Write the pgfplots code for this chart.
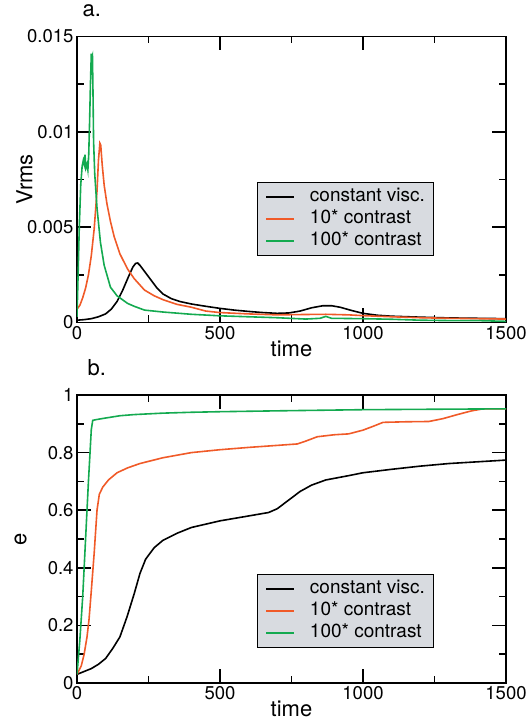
\documentclass[border=0pt]{standalone}
\usepackage{fontspec}
\setmainfont{TeX Gyre Heros}
\usepackage{pgfplots}
\pgfplotsset{compat=1.18}
\definecolor{corange}{RGB}{240,90,40}
\definecolor{cgreen}{RGB}{20,170,80}
\definecolor{lgray}{RGB}{216,219,224}

\pgfplotsset{
  myaxis/.style={
    scale only axis, width=429pt,
    xmin=0, xmax=1500, xtick={0,500,1000,1500}, minor x tick num=1, minor y tick num=1,
    xticklabel style={/pgf/number format/set thousands separator={}},
    tick align=inside,
    major tick length=14pt, minor tick length=7pt,
    axis line style={line width=1.6pt},
    every tick/.style={line width=1.6pt, black},
    tick label style={font=\fontsize{18.5}{22}\selectfont},
    label style={font=\fontsize{22}{26}\selectfont},
    title style={font=\fontsize{22}{26}\selectfont},
    /pgf/number format/assume math mode=true,
    xlabel=time,
    x label style={at={(axis description cs:0.5,0)}, anchor=base, yshift=-34pt, inner sep=0pt},
    legend cell align=left,
    legend image code/.code={\draw[#1, line width=1.8pt] (0pt,0pt) -- (28pt,0pt);},
    legend style={draw=black, line width=0.8pt, fill=lgray, anchor=north west,
      font=\fontsize{19}{22}\selectfont, inner xsep=8pt, inner ysep=3.5pt,
      column sep=15pt,
      nodes={inner xsep=0pt, inner ysep=2pt, text height=13.5pt, text depth=4.5pt}},
    every axis plot/.append style={line width=1.6pt, no marks},
  }
}

\begin{document}
\begin{tikzpicture}
\useasboundingbox (0,0) rectangle (531pt,722pt);
% ---------------- panel a ----------------
\begin{axis}[myaxis, at={(77pt,399.5pt)}, anchor=south west, height=286pt,
  ymin=0, ymax=0.015, ytick={0,0.005,0.01,0.015},
  scaled y ticks=false,
  yticklabel style={/pgf/number format/fixed, /pgf/number format/precision=3},
  ylabel=Vrms,
  y label style={at={(axis description cs:-0.104,0.5)}, anchor=base},
  title={a.}, title style={at={(axis description cs:0,1)}, anchor=base west, xshift=2pt, yshift=14pt},
  legend style={at={(axis description cs:0.419,0.49)}},
]
\addplot[black] coordinates {(0,0.00012)(25,0.00015)(50,0.0002)(75,0.0003)(100,0.00045)(120,0.0007)(140,0.0011)(160,0.0017)(180,0.0024)(195,0.0029)(205,0.0031)(212,0.00312)(220,0.0030)(240,0.0026)(260,0.0022)(280,0.0018)(300,0.0015)(330,0.00125)(360,0.0011)(400,0.00097)(450,0.00085)(500,0.00074)(550,0.00065)(600,0.00058)(650,0.00052)(700,0.00048)(740,0.0005)(780,0.0006)(820,0.00077)(860,0.00088)(890,0.00088)(920,0.0008)(960,0.00063)(1000,0.00048)(1050,0.00038)(1100,0.00033)(1200,0.00028)(1300,0.00024)(1400,0.00022)(1500,0.0002)};
\addlegendentry{constant visc.}
\addplot[corange] coordinates {(0,0.0007)(10,0.0009)(20,0.0013)(30,0.0018)(40,0.0025)(50,0.0035)(60,0.0049)(70,0.0069)(75,0.0085)(80,0.0094)(83,0.0093)(88,0.0083)(95,0.0072)(105,0.0062)(117,0.0053)(130,0.0045)(150,0.0036)(177,0.0028)(200,0.0023)(236,0.0017)(270,0.0014)(300,0.0012)(350,0.00095)(400,0.0008)(450,0.0006)(500,0.00052)(600,0.00045)(700,0.0004)(800,0.00042)(870,0.00043)(950,0.0004)(1000,0.00036)(1100,0.0003)(1200,0.00025)(1300,0.00022)(1400,0.0002)(1500,0.00018)};
\addlegendentry{10* contrast}
\addplot[cgreen] coordinates {(0,0.0003)(3,0.002)(8,0.005)(13,0.0072)(18,0.0082)(22,0.0085)(25,0.0083)(28,0.0088)(31,0.0081)(35,0.0083)(38,0.008)(41,0.0088)(44,0.0105)(47,0.0125)(50,0.0141)(52,0.0139)(54,0.014)(56,0.012)(58,0.0095)(62,0.0078)(70,0.006)(82,0.0042)(95,0.003)(117,0.00185)(140,0.0014)(177,0.001)(200,0.00085)(236,0.00065)(300,0.00055)(400,0.00043)(500,0.00035)(600,0.0003)(700,0.00025)(800,0.00018)(850,0.00022)(870,0.00032)(890,0.00022)(1000,0.0002)(1100,0.00017)(1200,0.00012)(1300,0.0001)(1400,0.0001)(1500,0.00006)};
\addlegendentry{100* contrast}
\end{axis}
% ---------------- panel b ----------------
\begin{axis}[myaxis, at={(77pt,39pt)}, anchor=south west, height=288pt,
  ymin=0, ymax=1, ytick={0,0.2,0.4,0.6,0.8,1},
  ylabel=e,
  y label style={at={(axis description cs:-0.118,0.5)}, anchor=base},
  title={b.}, title style={at={(axis description cs:0,1)}, anchor=base west, xshift=7pt, yshift=13pt},
  legend style={at={(axis description cs:0.419,0.378)}},
]
\addplot[black] coordinates {(0,0.03)(25,0.04)(50,0.05)(75,0.065)(100,0.085)(125,0.12)(150,0.16)(175,0.23)(200,0.31)(220,0.38)(240,0.43)(270,0.47)(300,0.495)(350,0.52)(400,0.54)(500,0.563)(600,0.58)(670,0.592)(700,0.605)(740,0.635)(780,0.665)(820,0.687)(870,0.705)(950,0.72)(1000,0.73)(1100,0.742)(1200,0.753)(1300,0.762)(1400,0.768)(1500,0.774)};
\addlegendentry{constant visc.}
\addplot[corange] coordinates {(0,0.03)(15,0.06)(25,0.1)(35,0.16)(42,0.22)(50,0.32)(60,0.45)(70,0.6)(78,0.655)(90,0.68)(110,0.705)(140,0.73)(177,0.747)(220,0.762)(300,0.782)(400,0.8)(500,0.81)(600,0.818)(700,0.825)(770,0.83)(800,0.84)(840,0.855)(900,0.862)(950,0.865)(1000,0.878)(1040,0.893)(1070,0.905)(1150,0.907)(1230,0.908)(1280,0.918)(1330,0.932)(1380,0.945)(1420,0.952)(1500,0.952)};
\addlegendentry{10* contrast}
\addplot[cgreen] coordinates {(0,0.03)(10,0.15)(20,0.3)(30,0.5)(40,0.7)(50,0.88)(55,0.912)(70,0.915)(100,0.92)(150,0.928)(200,0.932)(300,0.937)(400,0.94)(500,0.942)(700,0.945)(1000,0.949)(1500,0.952)};
\addlegendentry{100* contrast}
\end{axis}
\end{tikzpicture}
\end{document}
